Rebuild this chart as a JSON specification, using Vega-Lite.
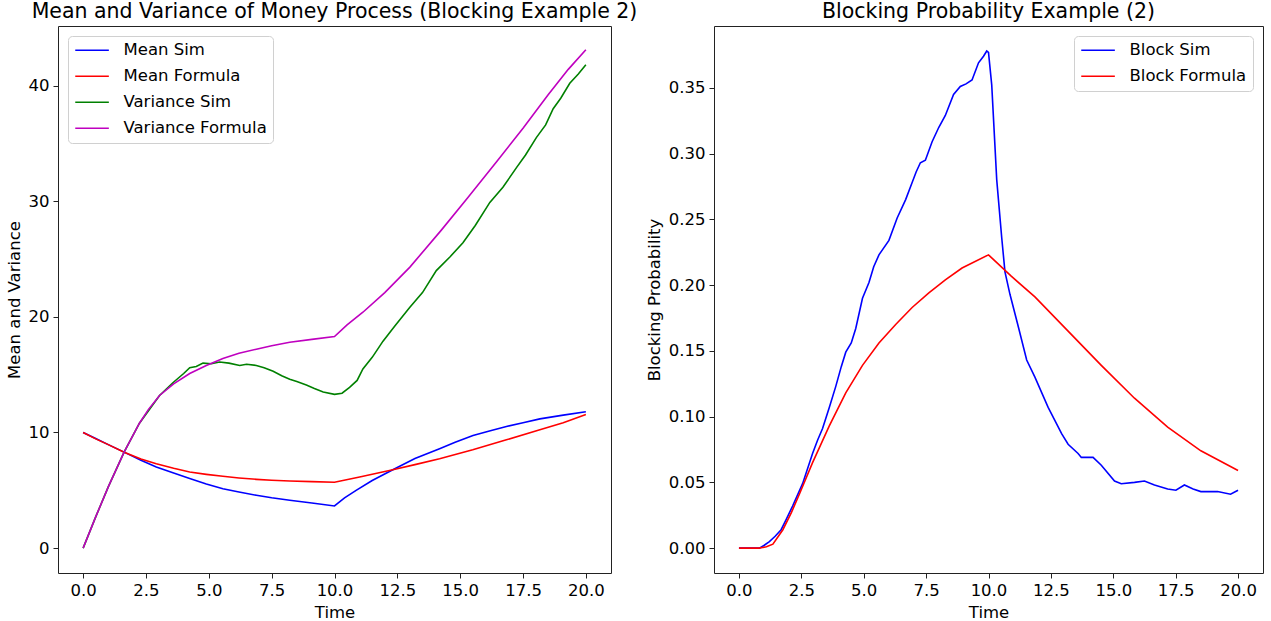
{
  "$schema": "https://vega.github.io/schema/vega-lite/v6.json",
  "padding": {"left": 5, "top": 1, "right": 5, "bottom": 5},
  "background": "white",
  "config": {
    "font": "DejaVu Sans",
    "view": {"stroke": "#222", "strokeWidth": 1},
    "axis": {"grid": false, "domain": false, "labelFont": "DejaVu Sans", "titleFont": "DejaVu Sans", "labelFontSize": 16.5, "titleFontSize": 16.5, "titleFontWeight": "normal", "labelColor": "#000", "titleColor": "#000", "tickColor": "#222", "tickSize": 5, "tickWidth": 1, "labelPadding": 4, "titlePadding": 6},
    "title": {"font": "DejaVu Sans", "fontSize": 20.5, "fontWeight": "normal", "color": "#000", "offset": 0, "anchor": "middle"},
    "legend": {"labelFont": "DejaVu Sans", "labelFontSize": 16.5, "labelColor": "#000", "symbolType": "M-1,0H3.8", "symbolSize": 196, "symbolStrokeWidth": 1.6, "labelOffset": 33, "rowPadding": 9, "padding": 6, "strokeColor": "#d0d0d0", "fillColor": "rgba(255,255,255,0.85)", "cornerRadius": 4, "offset": 10}
  },
  "datasets": {
    "left": [
      {"t":0,"v":10,"s":"Mean Sim"},{"t":0.5,"v":9.48,"s":"Mean Sim"},{"t":1,"v":8.95,"s":"Mean Sim"},{"t":1.63,"v":8.3,"s":"Mean Sim"},{"t":2.3,"v":7.6,"s":"Mean Sim"},{"t":2.91,"v":7.02,"s":"Mean Sim"},{"t":3.6,"v":6.5,"s":"Mean Sim"},{"t":4.24,"v":6.02,"s":"Mean Sim"},{"t":4.9,"v":5.55,"s":"Mean Sim"},{"t":5.56,"v":5.14,"s":"Mean Sim"},{"t":6.2,"v":4.85,"s":"Mean Sim"},{"t":6.89,"v":4.57,"s":"Mean Sim"},{"t":7.5,"v":4.35,"s":"Mean Sim"},{"t":8.22,"v":4.14,"s":"Mean Sim"},{"t":9.1,"v":3.9,"s":"Mean Sim"},{"t":10,"v":3.65,"s":"Mean Sim"},{"t":10.4,"v":4.35,"s":"Mean Sim"},{"t":10.86,"v":5.0,"s":"Mean Sim"},{"t":11.5,"v":5.85,"s":"Mean Sim"},{"t":12.32,"v":6.78,"s":"Mean Sim"},{"t":13.2,"v":7.75,"s":"Mean Sim"},{"t":14.18,"v":8.59,"s":"Mean Sim"},{"t":14.8,"v":9.15,"s":"Mean Sim"},{"t":15.51,"v":9.74,"s":"Mean Sim"},{"t":16.2,"v":10.15,"s":"Mean Sim"},{"t":16.84,"v":10.52,"s":"Mean Sim"},{"t":17.5,"v":10.85,"s":"Mean Sim"},{"t":18.17,"v":11.18,"s":"Mean Sim"},{"t":19.1,"v":11.5,"s":"Mean Sim"},{"t":20,"v":11.8,"s":"Mean Sim"},
      {"t":0,"v":10,"s":"Mean Formula"},{"t":0.5,"v":9.45,"s":"Mean Formula"},{"t":1,"v":8.95,"s":"Mean Formula"},{"t":1.63,"v":8.3,"s":"Mean Formula"},{"t":2.3,"v":7.7,"s":"Mean Formula"},{"t":2.91,"v":7.3,"s":"Mean Formula"},{"t":3.6,"v":6.9,"s":"Mean Formula"},{"t":4.24,"v":6.58,"s":"Mean Formula"},{"t":4.9,"v":6.38,"s":"Mean Formula"},{"t":5.56,"v":6.21,"s":"Mean Formula"},{"t":6.2,"v":6.07,"s":"Mean Formula"},{"t":6.89,"v":5.95,"s":"Mean Formula"},{"t":7.5,"v":5.87,"s":"Mean Formula"},{"t":8.22,"v":5.8,"s":"Mean Formula"},{"t":9.1,"v":5.75,"s":"Mean Formula"},{"t":10,"v":5.7,"s":"Mean Formula"},{"t":11,"v":6.15,"s":"Mean Formula"},{"t":12.32,"v":6.78,"s":"Mean Formula"},{"t":13.2,"v":7.22,"s":"Mean Formula"},{"t":14.18,"v":7.73,"s":"Mean Formula"},{"t":15.5,"v":8.5,"s":"Mean Formula"},{"t":16.84,"v":9.37,"s":"Mean Formula"},{"t":18.17,"v":10.23,"s":"Mean Formula"},{"t":19.1,"v":10.85,"s":"Mean Formula"},{"t":20,"v":11.55,"s":"Mean Formula"},
      {"t":0,"v":0,"s":"Variance Sim"},{"t":0.5,"v":2.7,"s":"Variance Sim"},{"t":1,"v":5.3,"s":"Variance Sim"},{"t":1.63,"v":8.3,"s":"Variance Sim"},{"t":2.24,"v":10.8,"s":"Variance Sim"},{"t":3.04,"v":13.2,"s":"Variance Sim"},{"t":3.57,"v":14.3,"s":"Variance Sim"},{"t":4.0,"v":15.1,"s":"Variance Sim"},{"t":4.24,"v":15.6,"s":"Variance Sim"},{"t":4.5,"v":15.7,"s":"Variance Sim"},{"t":4.77,"v":16.0,"s":"Variance Sim"},{"t":5.1,"v":15.95,"s":"Variance Sim"},{"t":5.43,"v":16.1,"s":"Variance Sim"},{"t":5.8,"v":16.0,"s":"Variance Sim"},{"t":6.23,"v":15.8,"s":"Variance Sim"},{"t":6.5,"v":15.9,"s":"Variance Sim"},{"t":6.89,"v":15.8,"s":"Variance Sim"},{"t":7.2,"v":15.6,"s":"Variance Sim"},{"t":7.56,"v":15.3,"s":"Variance Sim"},{"t":7.9,"v":14.9,"s":"Variance Sim"},{"t":8.22,"v":14.6,"s":"Variance Sim"},{"t":8.5,"v":14.4,"s":"Variance Sim"},{"t":8.88,"v":14.1,"s":"Variance Sim"},{"t":9.2,"v":13.8,"s":"Variance Sim"},{"t":9.55,"v":13.5,"s":"Variance Sim"},{"t":10,"v":13.3,"s":"Variance Sim"},{"t":10.3,"v":13.4,"s":"Variance Sim"},{"t":10.6,"v":13.9,"s":"Variance Sim"},{"t":10.9,"v":14.5,"s":"Variance Sim"},{"t":11.13,"v":15.5,"s":"Variance Sim"},{"t":11.5,"v":16.5,"s":"Variance Sim"},{"t":11.93,"v":17.9,"s":"Variance Sim"},{"t":12.4,"v":19.2,"s":"Variance Sim"},{"t":12.99,"v":20.8,"s":"Variance Sim"},{"t":13.5,"v":22.1,"s":"Variance Sim"},{"t":14.05,"v":24.0,"s":"Variance Sim"},{"t":14.6,"v":25.2,"s":"Variance Sim"},{"t":15.11,"v":26.4,"s":"Variance Sim"},{"t":15.6,"v":27.9,"s":"Variance Sim"},{"t":16.18,"v":29.9,"s":"Variance Sim"},{"t":16.7,"v":31.2,"s":"Variance Sim"},{"t":17.24,"v":32.9,"s":"Variance Sim"},{"t":17.6,"v":34.0,"s":"Variance Sim"},{"t":18.03,"v":35.5,"s":"Variance Sim"},{"t":18.4,"v":36.6,"s":"Variance Sim"},{"t":18.7,"v":38.0,"s":"Variance Sim"},{"t":19.0,"v":38.9,"s":"Variance Sim"},{"t":19.36,"v":40.2,"s":"Variance Sim"},{"t":19.7,"v":41.0,"s":"Variance Sim"},{"t":20,"v":41.8,"s":"Variance Sim"},
      {"t":0,"v":0,"s":"Variance Formula"},{"t":0.5,"v":2.7,"s":"Variance Formula"},{"t":1,"v":5.3,"s":"Variance Formula"},{"t":1.63,"v":8.3,"s":"Variance Formula"},{"t":2.24,"v":10.8,"s":"Variance Formula"},{"t":2.6,"v":12.0,"s":"Variance Formula"},{"t":3.04,"v":13.2,"s":"Variance Formula"},{"t":3.6,"v":14.2,"s":"Variance Formula"},{"t":4.24,"v":15.1,"s":"Variance Formula"},{"t":4.9,"v":15.8,"s":"Variance Formula"},{"t":5.56,"v":16.4,"s":"Variance Formula"},{"t":6.2,"v":16.85,"s":"Variance Formula"},{"t":6.89,"v":17.2,"s":"Variance Formula"},{"t":7.5,"v":17.5,"s":"Variance Formula"},{"t":8.22,"v":17.8,"s":"Variance Formula"},{"t":9.1,"v":18.05,"s":"Variance Formula"},{"t":10,"v":18.3,"s":"Variance Formula"},{"t":10.5,"v":19.3,"s":"Variance Formula"},{"t":11.13,"v":20.4,"s":"Variance Formula"},{"t":12,"v":22.1,"s":"Variance Formula"},{"t":13,"v":24.3,"s":"Variance Formula"},{"t":14.25,"v":27.5,"s":"Variance Formula"},{"t":15.3,"v":30.3,"s":"Variance Formula"},{"t":16.44,"v":33.4,"s":"Variance Formula"},{"t":17.5,"v":36.3,"s":"Variance Formula"},{"t":18.5,"v":39.2,"s":"Variance Formula"},{"t":19.3,"v":41.4,"s":"Variance Formula"},{"t":20,"v":43.1,"s":"Variance Formula"}
    ],
    "right": [
      {"t":0,"p":0,"s":"Block Sim"},{"t":0.82,"p":0,"s":"Block Sim"},{"t":1.0,"p":0.002,"s":"Block Sim"},{"t":1.22,"p":0.005,"s":"Block Sim"},{"t":1.45,"p":0.009,"s":"Block Sim"},{"t":1.69,"p":0.014,"s":"Block Sim"},{"t":1.9,"p":0.022,"s":"Block Sim"},{"t":2.15,"p":0.032,"s":"Block Sim"},{"t":2.55,"p":0.049,"s":"Block Sim"},{"t":2.95,"p":0.072,"s":"Block Sim"},{"t":3.15,"p":0.082,"s":"Block Sim"},{"t":3.35,"p":0.091,"s":"Block Sim"},{"t":3.62,"p":0.107,"s":"Block Sim"},{"t":3.88,"p":0.123,"s":"Block Sim"},{"t":4.1,"p":0.138,"s":"Block Sim"},{"t":4.28,"p":0.149,"s":"Block Sim"},{"t":4.5,"p":0.156,"s":"Block Sim"},{"t":4.68,"p":0.167,"s":"Block Sim"},{"t":4.95,"p":0.19,"s":"Block Sim"},{"t":5.21,"p":0.202,"s":"Block Sim"},{"t":5.4,"p":0.214,"s":"Block Sim"},{"t":5.61,"p":0.223,"s":"Block Sim"},{"t":6.01,"p":0.234,"s":"Block Sim"},{"t":6.34,"p":0.251,"s":"Block Sim"},{"t":6.68,"p":0.265,"s":"Block Sim"},{"t":6.94,"p":0.278,"s":"Block Sim"},{"t":7.1,"p":0.286,"s":"Block Sim"},{"t":7.27,"p":0.293,"s":"Block Sim"},{"t":7.47,"p":0.295,"s":"Block Sim"},{"t":7.74,"p":0.309,"s":"Block Sim"},{"t":8.01,"p":0.32,"s":"Block Sim"},{"t":8.27,"p":0.329,"s":"Block Sim"},{"t":8.6,"p":0.345,"s":"Block Sim"},{"t":8.87,"p":0.351,"s":"Block Sim"},{"t":9.1,"p":0.353,"s":"Block Sim"},{"t":9.34,"p":0.356,"s":"Block Sim"},{"t":9.6,"p":0.369,"s":"Block Sim"},{"t":9.8,"p":0.374,"s":"Block Sim"},{"t":9.93,"p":0.378,"s":"Block Sim"},{"t":10,"p":0.377,"s":"Block Sim"},{"t":10.13,"p":0.352,"s":"Block Sim"},{"t":10.33,"p":0.28,"s":"Block Sim"},{"t":10.53,"p":0.236,"s":"Block Sim"},{"t":10.66,"p":0.21,"s":"Block Sim"},{"t":10.86,"p":0.193,"s":"Block Sim"},{"t":11.2,"p":0.168,"s":"Block Sim"},{"t":11.53,"p":0.143,"s":"Block Sim"},{"t":11.86,"p":0.13,"s":"Block Sim"},{"t":12.39,"p":0.107,"s":"Block Sim"},{"t":12.93,"p":0.087,"s":"Block Sim"},{"t":13.19,"p":0.079,"s":"Block Sim"},{"t":13.59,"p":0.072,"s":"Block Sim"},{"t":13.72,"p":0.069,"s":"Block Sim"},{"t":14.19,"p":0.069,"s":"Block Sim"},{"t":14.52,"p":0.063,"s":"Block Sim"},{"t":15.05,"p":0.051,"s":"Block Sim"},{"t":15.32,"p":0.049,"s":"Block Sim"},{"t":15.85,"p":0.05,"s":"Block Sim"},{"t":16.25,"p":0.051,"s":"Block Sim"},{"t":16.65,"p":0.048,"s":"Block Sim"},{"t":17.18,"p":0.045,"s":"Block Sim"},{"t":17.51,"p":0.044,"s":"Block Sim"},{"t":17.85,"p":0.048,"s":"Block Sim"},{"t":18.2,"p":0.045,"s":"Block Sim"},{"t":18.51,"p":0.043,"s":"Block Sim"},{"t":19.18,"p":0.043,"s":"Block Sim"},{"t":19.7,"p":0.041,"s":"Block Sim"},{"t":20,"p":0.044,"s":"Block Sim"},
      {"t":0,"p":0,"s":"Block Formula"},{"t":0.8,"p":0,"s":"Block Formula"},{"t":1.1,"p":0.001,"s":"Block Formula"},{"t":1.36,"p":0.003,"s":"Block Formula"},{"t":1.76,"p":0.014,"s":"Block Formula"},{"t":2.1,"p":0.027,"s":"Block Formula"},{"t":2.42,"p":0.041,"s":"Block Formula"},{"t":2.95,"p":0.065,"s":"Block Formula"},{"t":3.62,"p":0.093,"s":"Block Formula"},{"t":4.28,"p":0.118,"s":"Block Formula"},{"t":4.95,"p":0.139,"s":"Block Formula"},{"t":5.61,"p":0.156,"s":"Block Formula"},{"t":6.28,"p":0.17,"s":"Block Formula"},{"t":6.94,"p":0.183,"s":"Block Formula"},{"t":7.61,"p":0.194,"s":"Block Formula"},{"t":8.27,"p":0.204,"s":"Block Formula"},{"t":8.94,"p":0.213,"s":"Block Formula"},{"t":10,"p":0.223,"s":"Block Formula"},{"t":10.9,"p":0.207,"s":"Block Formula"},{"t":11.86,"p":0.191,"s":"Block Formula"},{"t":13.19,"p":0.165,"s":"Block Formula"},{"t":14.52,"p":0.139,"s":"Block Formula"},{"t":15.85,"p":0.114,"s":"Block Formula"},{"t":17.18,"p":0.092,"s":"Block Formula"},{"t":18.51,"p":0.074,"s":"Block Formula"},{"t":20,"p":0.059,"s":"Block Formula"}
    ]
  },
  "bounds": "flush",
  "spacing": 103,
  "resolve": {"scale": {"x": "independent", "y": "independent", "color": "independent"}, "legend": {"color": "independent"}},
  "hconcat": [
    {
      "width": 553,
      "height": 547,
      "title": "Mean and Variance of Money Process (Blocking Example 2)",
      "data": {"name": "left"},
      "mark": {"type": "line", "strokeWidth": 1.6, "clip": true},
      "encoding": {
        "x": {"field": "t", "type": "quantitative", "scale": {"domain": [-1, 21], "nice": false, "zero": false}, "axis": {"values": [0, 2.5, 5, 7.5, 10, 12.5, 15, 17.5, 20], "format": ".1f", "title": "Time"}},
        "y": {"field": "v", "type": "quantitative", "scale": {"domain": [-2.15, 45.15], "nice": false, "zero": false}, "axis": {"values": [0, 10, 20, 30, 40], "format": "d", "title": "Mean and Variance"}},
        "color": {"field": "s", "type": "nominal", "sort": null, "scale": {"domain": ["Mean Sim", "Mean Formula", "Variance Sim", "Variance Formula"], "range": ["#0000ff", "#ff0000", "#008000", "#bf00bf"]}, "legend": {"title": null, "orient": "top-left"}}
      }
    },
    {
      "width": 549,
      "height": 547,
      "title": "Blocking Probability Example (2)",
      "data": {"name": "right"},
      "mark": {"type": "line", "strokeWidth": 1.6, "clip": true},
      "encoding": {
        "x": {"field": "t", "type": "quantitative", "scale": {"domain": [-1, 21], "nice": false, "zero": false}, "axis": {"values": [0, 2.5, 5, 7.5, 10, 12.5, 15, 17.5, 20], "format": ".1f", "title": "Time"}},
        "y": {"field": "p", "type": "quantitative", "scale": {"domain": [-0.0189, 0.397], "nice": false, "zero": false}, "axis": {"values": [0, 0.05, 0.1, 0.15, 0.2, 0.25, 0.3, 0.35], "format": ".2f", "title": "Blocking Probability"}},
        "color": {"field": "s", "type": "nominal", "sort": null, "scale": {"domain": ["Block Sim", "Block Formula"], "range": ["#0000ff", "#ff0000"]}, "legend": {"title": null, "orient": "top-right"}}
      }
    }
  ]
}
